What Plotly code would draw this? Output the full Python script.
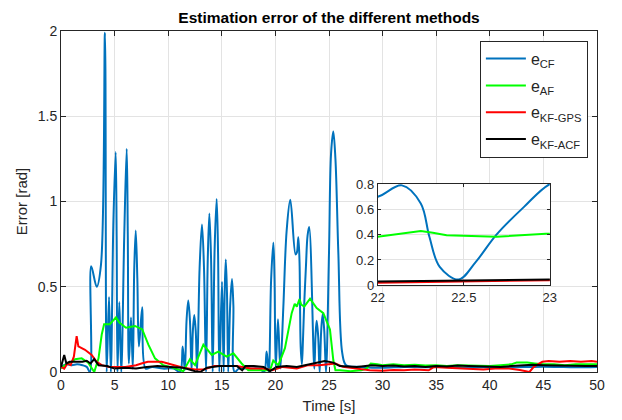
import plotly.graph_objects as go

# ---------------- data ----------------
cf_t = [0, 0.5, 1.0, 1.5, 2.0, 2.4, 2.7, 2.82, 3.33, 3.73, 4.1, 4.26, 4.48, 4.65,
        4.88, 5.1, 5.19, 5.27, 5.44, 5.62, 5.9, 6.13, 6.23, 6.33, 6.53, 6.7, 6.83, 6.97, 7.12,
        7.27, 7.58, 7.9,
        8.5, 9.5, 10.5, 11.1, 11.35, 11.55, 11.71, 11.87, 12.03, 12.18, 12.3, 12.43, 12.57,
        12.7, 12.93, 13.15, 13.34,
        13.53, 13.69, 13.84, 14.0, 14.15, 14.33, 14.52, 14.65, 14.77, 15.02, 15.17, 15.27,
        15.37, 15.48, 15.6, 15.78, 15.95, 16.08,
        16.2, 16.6, 17.5, 18.5, 18.95, 19.18, 19.38, 19.6, 19.81, 19.92, 20.03, 20.24, 20.46,
        20.74, 21.05, 21.39, 21.88, 22.0, 22.14, 22.25, 22.30, 22.36, 22.47,
        22.57, 22.69, 22.85, 23.0, 23.15, 23.63, 23.74, 23.85, 23.99, 24.13, 24.27, 24.41,
        24.56, 24.72,
        25.0, 25.19, 25.4, 25.6, 25.87, 26.24, 26.6, 28, 30, 32, 34, 36, 38,
        40, 42, 44, 46, 48, 50]
cf_v = [0.03, 0.045, 0.04, 0.045, 0.04, 0.03, 0.0, 0.62, 0.50, 0.63, 1.99, 0.0, 0.44, 0.0,
        0.86, 1.29, 0.8, 0.0, 0.41, 0.0, 0.8, 1.31, 0.8, 0.05, 0.32, 0.02, 0.6, 0.83, 0.55,
        0.15, 0.38, 0.02,
        0.03, 0.02, 0.02, 0.0, 0.15, 0.01, 0.3, 0.42, 0.3, 0.01, 0.24, 0.335, 0.24,
        0.0, 0.61, 0.865, 0.61,
        0.0, 0.66, 0.93, 0.66, 0.0, 0.72, 1.015, 0.7, 0.0, 0.53, 0.0, 0.47,
        0.66, 0.47, 0.0, 0.39, 0.545, 0.39,
        0.0, 0.02, 0.02, 0.02, 0.0, 0.12, 0.0, 0.54, 0.76, 0.54, 0.02, 0.31, 0.02,
        0.38, 0.83, 1.01, 0.69, 0.70, 0.79, 0.647, 0.383, 0.145, 0.045,
        0.185, 0.40, 0.62, 0.80, 0.85, 0.02, 0.21, 0.30, 0.21, 0.0, 0.24, 0.34,
        0.24, 0.0,
        0.70, 1.28, 1.41, 1.25, 0.70, 0.11, 0.04, 0.03, 0.025, 0.03, 0.028, 0.03, 0.025,
        0.03, 0.028, 0.03, 0.03, 0.028, 0.03]

af_t = [0, 0.37, 1.0, 1.31, 1.93, 2.54, 3.1, 3.5, 3.8, 4.02, 4.55, 5.13, 5.44, 6.06,
        6.9, 7.58, 8.15, 8.77, 9.54, 10.17, 11.4, 12.03, 12.5, 13.28, 14.06, 14.67,
        15.46, 16.08, 16.85, 17.47, 18.5, 19.5, 19.8, 20.27, 20.89, 21.52, 21.8,
        22.0, 22.25, 22.32, 22.40, 22.69, 23.0, 23.23, 23.85, 24.47, 25.09, 25.4,
        25.6, 26, 27, 28, 28.5, 28.9, 29.5, 30, 31, 32, 33, 34, 35, 36, 37, 38,
        39, 40, 41, 42, 42.5, 43.5, 44.2, 45, 46, 47, 48, 49, 50]
af_v = [0.02, 0.04, 0.06, 0.075, 0.08, 0.055, 0.0, 0.08, 0.22, 0.28, 0.28, 0.32, 0.29, 0.26,
        0.27, 0.25, 0.16, 0.08, 0.04, 0.03, 0.005, 0.075, 0.04, 0.16, 0.10, 0.12,
        0.09, 0.11, 0.05, 0.01, 0.01, 0.01, 0.067, 0.04, 0.14, 0.345, 0.40,
        0.383, 0.428, 0.415, 0.396, 0.383, 0.41, 0.43, 0.375, 0.345, 0.25, 0.07,
        0.01, 0.01, 0.005, 0.01, 0.02, 0.05, 0.045, 0.04, 0.045, 0.04, 0.042, 0.038, 0.04, 0.035, 0.04, 0.038,
        0.04, 0.035, 0.04, 0.045, 0.055, 0.055, 0.05, 0.045, 0.045, 0.04, 0.045, 0.045, 0.045]

gps_t = [0, 0.3, 0.6, 0.9, 1.2, 1.46, 1.62, 2.24, 2.86, 3.33, 3.8, 4.5, 6.0, 7.0, 7.5,
         8.1, 9.4, 10.2, 11.4, 12.5, 13.3, 14.3, 16.4, 17.7, 18.9, 19.7, 20.7, 22.0,
         23.0, 24.1, 25.6, 26.3, 27.5, 28.8, 30, 31, 32, 33, 34.3, 34.8, 36, 37, 38,
         39.4, 40.5, 41.8, 42.8, 43.7, 44.1, 44.9, 45.5, 46.5, 47.5, 48.5, 49.5, 50]
gps_v = [0.03, 0.02, 0.05, 0.04, 0.09, 0.21, 0.15, 0.13, 0.10, 0.06, 0.04, 0.03, 0.03, 0.04, 0.05,
         0.06, 0.06, 0.045, 0.025, 0.015, 0.015, 0.035, 0.035, 0.02, 0.02, 0.01, 0.03, 0.02,
         0.04, 0.04, 0.05, 0.03, 0.02, 0.01, 0.008, 0.012, 0.01, 0.015, 0.01, 0.03, 0.025, 0.022, 0.02,
         0.015, 0.02, 0.02, 0.012, 0.0, 0.03, 0.06, 0.065, 0.06, 0.065, 0.06, 0.065, 0.06]

acf_t = [0, 0.3, 0.5, 0.8, 1.3, 2.0, 2.4, 2.75, 3.1, 3.5, 4.3, 5.0, 6.0, 7.0, 8.0, 9.0,
         10.2, 11.4, 12.5, 13.0, 13.6, 14.8, 16.4, 16.9, 17.2, 18.0, 18.9, 19.5, 20.1,
         21.05, 22.0, 23.0, 23.85, 24.6, 25.4, 26.0, 27.6, 29, 30, 31, 32, 33, 34, 35,
         36, 37, 38, 39, 40, 41, 42, 43, 44, 45, 46, 47, 48, 49, 50]
acf_v = [0.03, 0.10, 0.05, 0.06, 0.06, 0.06, 0.066, 0.05, 0.075, 0.04, 0.035, 0.02, 0.025, 0.02, 0.03, 0.035,
         0.03, 0.025, 0.005, 0.0, 0.025, 0.035, 0.035, 0.01, 0.035, 0.035, 0.03, 0.005, 0.03,
         0.035, 0.03, 0.045, 0.055, 0.065, 0.055, 0.035, 0.03, 0.04, 0.035, 0.038, 0.032, 0.035, 0.03, 0.035,
         0.032, 0.038, 0.035, 0.033, 0.035, 0.03, 0.035, 0.038, 0.042, 0.04, 0.038, 0.04, 0.036, 0.035, 0.035]

series = [
    ("e<sub>CF</sub>", cf_t, cf_v, "#0072BD", "spline"),
    ("e<sub>AF</sub>", af_t, af_v, "#00FF00", "linear"),
    ("e<sub>KF-GPS</sub>", gps_t, gps_v, "#FF0000", "linear"),
    ("e<sub>KF-ACF</sub>", acf_t, acf_v, "#000000", "linear"),
]

x_ticks = [0, 5, 10, 15, 20, 25, 30, 35, 40, 45, 50]
y_ticks = [0, 0.5, 1, 1.5, 2]
y_tick_text = ["0", "0.5", "1", "1.5", "2"]
inset_x_ticks = [22, 22.5, 23]
inset_x_text = ["22", "22.5", "23"]
inset_y_ticks = [0, 0.2, 0.4, 0.6, 0.8]
inset_y_text = ["0", "0.2", "0.4", "0.6", "0.8"]

# ---------------- figure ----------------
fig = go.Figure()
for i, (name, t, v, col, shape) in enumerate(series):
    fig.add_trace(go.Scatter(x=t, y=v, name=name, mode="lines", legendgroup=f"g{i}",
                             line=dict(color=col, width=2, shape=shape, smoothing=1.0)))
for name, t, v, col, shape in series:
    fig.add_trace(go.Scatter(x=t, y=v, name=name, mode="lines", showlegend=False,
                             xaxis="x2", yaxis="y2",
                             line=dict(color=col, width=2, shape=shape, smoothing=1.0)))

axc = "#262626"
gridc = "#e3e3e3"
font = "Liberation Sans, Arial, Helvetica, sans-serif"

common = dict(showline=True, linecolor=axc, linewidth=1, mirror="ticks", ticks="inside",
              ticklen=5, tickcolor=axc, showgrid=True, gridcolor=gridc, gridwidth=1,
              zeroline=False, automargin=False,
              tickfont=dict(size=14, color=axc, family=font))
inset = {**common, "tickfont": dict(size=13, color=axc, family=font), "ticklen": 3}

fig.update_layout(
    width=622, height=420,
    margin=dict(l=61, r=25, t=31, b=48, autoexpand=False),
    paper_bgcolor="white", plot_bgcolor="white",
    font=dict(family=font, color=axc),
    title=dict(text="<b>Estimation error of the different methods</b>",
               x=0.529, xanchor="center", y=0.958, yanchor="middle",
               font=dict(size=15.5, color="black", family=font)),
    xaxis=dict(range=[0, 50], tickvals=x_ticks, domain=[0, 1],
               title=dict(text="Time [s]", font=dict(size=15, color=axc), standoff=8), **common),
    yaxis=dict(range=[0, 2], tickvals=y_ticks, ticktext=y_tick_text, domain=[0, 1],
               title=dict(text="Error [rad]", font=dict(size=15, color=axc), standoff=6), **common),
    xaxis2=dict(range=[22, 23], tickvals=inset_x_ticks, ticktext=inset_x_text,
                domain=[0.591, 0.912], anchor="y2", **inset),
    yaxis2=dict(range=[0, 0.8], tickvals=inset_y_ticks, ticktext=inset_y_text,
                domain=[0.2545, 0.551], anchor="x2", **inset),
    legend=dict(x=0.983, xanchor="right", y=0.9715, yanchor="top",
                bgcolor="white", bordercolor=axc, borderwidth=1, itemwidth=40,
                font=dict(size=16, color=axc, family=font), tracegroupgap=3),
    showlegend=True,
)

fig.write_html("out.html", config={"displayModeBar": False},
               post_script="document.body.style.margin='0';")
